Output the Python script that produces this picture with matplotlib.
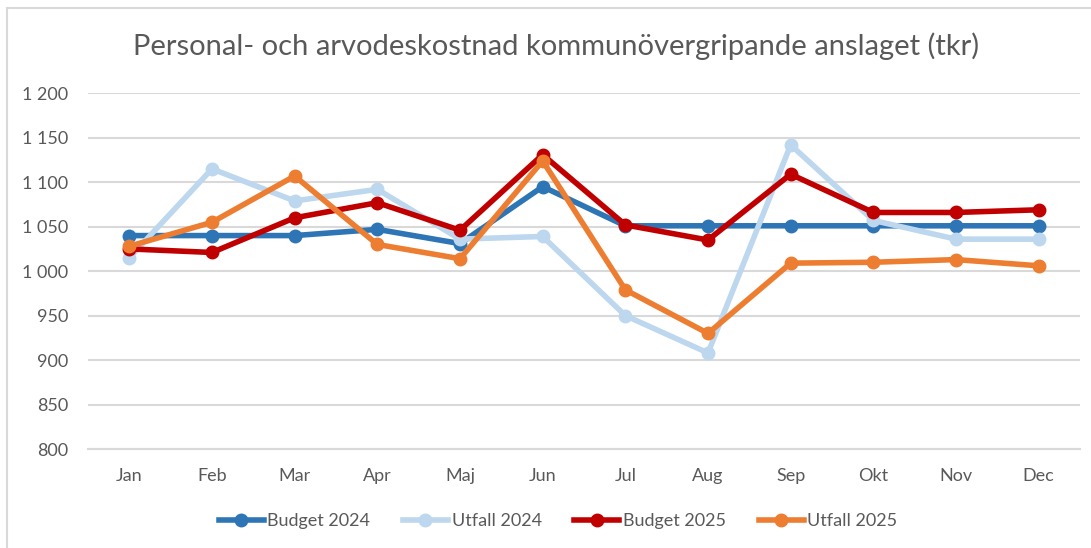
import matplotlib
matplotlib.use("Agg")
import matplotlib.pyplot as plt
from matplotlib.patches import Rectangle

# Data (tkr per month)
months = ["Jan", "Feb", "Mar", "Apr", "Maj", "Jun", "Jul", "Aug", "Sep", "Okt", "Nov", "Dec"]
budget_2024 = [1040, 1040, 1040, 1047, 1031, 1095, 1051, 1051, 1051, 1051, 1051, 1051]
utfall_2024 = [1015, 1115, 1079, 1092, 1036, 1039, 950, 908, 1142, 1057, 1036, 1036]
budget_2025 = [1025, 1021, 1060, 1077, 1046, 1131, 1052, 1035, 1109, 1066, 1066, 1069]
utfall_2025 = [1028, 1055, 1107, 1030, 1014, 1124, 979, 930, 1009, 1010, 1013, 1006]

y_ticks = [800, 850, 900, 950, 1000, 1050, 1100, 1150, 1200]
y_tick_labels = ["800", "850", "900", "950", "1 000", "1 050", "1 100", "1 150", "1 200"]

TEXT = "#595959"
GRID = "#D9D9D9"

plt.rcParams["font.family"] = ["Lato", "DejaVu Sans"]

fig = plt.figure(figsize=(10.91, 5.48), dpi=100)
ax = fig.add_axes([88 / 1091, 1 - 449 / 548, 992 / 1091, (449 - 93.3) / 548])

# light chart border like the Excel chart area
fig.patches.append(Rectangle((7 / 1091, -0.1), 1.2, 1 - 8 / 548 + 0.1,
                             transform=fig.transFigure, fill=False,
                             edgecolor=GRID, linewidth=1.5))

series = [
    ("Budget 2024", budget_2024, "#2E75B6"),
    ("Utfall 2024", utfall_2024, "#BDD7EE"),
    ("Budget 2025", budget_2025, "#C00000"),
    ("Utfall 2025", utfall_2025, "#ED7D31"),
]
x = list(range(len(months)))
for i, (name, vals, color) in enumerate(series):
    ax.plot(x, vals, color=color, linewidth=4, marker="o", markersize=9,
            label=name, zorder=3 + i, solid_joinstyle="round")

ax.set_xlim(-0.5, len(months) - 0.5)
ax.set_ylim(800, 1200)
ax.set_yticks(y_ticks)
ax.set_yticklabels(y_tick_labels)
ax.set_xticks(x)
ax.set_xticklabels(months)
ax.grid(axis="y", color=GRID, linewidth=1.5)
ax.set_axisbelow(True)
for side in ["top", "right", "left"]:
    ax.spines[side].set_visible(False)
ax.spines["bottom"].set_color(GRID)
ax.spines["bottom"].set_linewidth(1.5)
ax.tick_params(axis="y", length=0, pad=14, labelsize=13, labelcolor=TEXT)
ax.tick_params(axis="x", length=0, pad=14, labelsize=13, labelcolor=TEXT)

fig.text(556 / 1091, 1 - 46 / 548, "Personal- och arvodeskostnad kommunövergripande anslaget (tkr)",
         ha="center", va="center", fontsize=21, color=TEXT)

leg = fig.legend(loc="center", bbox_to_anchor=(558 / 1091, 1 - 521 / 548), ncol=4,
                 frameon=False, fontsize=13, handlelength=2.5, handletextpad=0.2,
                 columnspacing=1.8)
for t in leg.get_texts():
    t.set_color(TEXT)

fig.savefig("out.png", dpi=100)
